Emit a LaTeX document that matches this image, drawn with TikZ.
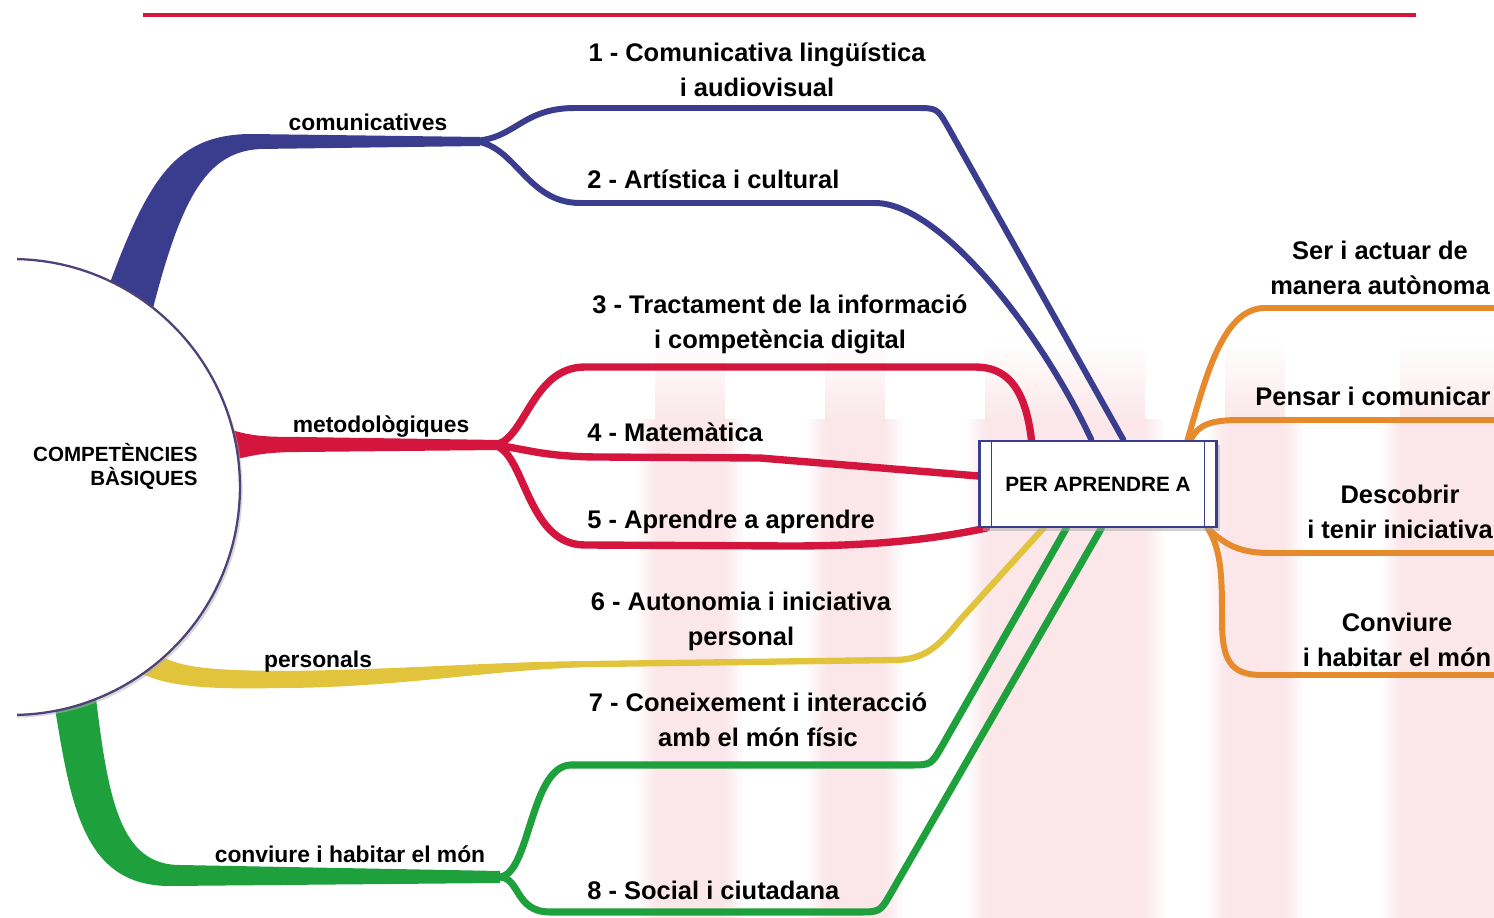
\documentclass[tikz,border=0pt]{standalone}
\usepackage{fontspec}
\setmainfont{Liberation Sans}
\usetikzlibrary{calc,shadows}
\pgfdeclarelayer{marca}
\pgfdeclarelayer{fons}
\pgfsetlayers{marca,fons,main}

\definecolor{blau}{RGB}{58,60,142}
\definecolor{vermell}{RGB}{212,22,62}
\definecolor{groc}{RGB}{226,195,60}
\definecolor{verd}{RGB}{30,160,60}
\definecolor{taronja}{RGB}{230,138,44}
\definecolor{vora}{RGB}{80,66,120}
\definecolor{rosa}{RGB}{251,231,234}

\tikzset{
	comp/.style={font=\fontsize{14.5}{20}\selectfont\bfseries, align=center, inner sep=0pt},
	grup/.style={font=\fontsize{13}{15}\selectfont\bfseries, inner sep=0pt, anchor=base},
	branca/.style={line width=#1, line cap=round, line join=round},
	branca/.default=3.4pt,
	caixa/.style={draw=blau, line width=1.2pt, fill=white, minimum width=4.74cm, minimum height=1.72cm, inner sep=0pt, font=\fontsize{11.8}{14}\selectfont\bfseries, drop shadow={shadow xshift=2pt, shadow yshift=-2pt, fill=black!35}}
}

\begin{document}
\begin{tikzpicture}[x=0.02cm, y=-0.02cm]
		\useasboundingbox (0,0) rectangle (1494,918);
		%Fons (marca d'aigua)
		\begin{pgfonlayer}{marca}
		\foreach \xa/\xb in {655/725, 825/885, 985/1145, 1225/1285, 1400/1500}{
			\fill [rosa] (\xa,420) rectangle (\xb,918);
			\shade [top color=white, bottom color=rosa] (\xa,340) rectangle (\xb,420.5);
			\shade [left color=white, right color=rosa] (\xa-20,420) rectangle (\xa+0.5,918);
			\shade [left color=rosa, right color=white] (\xb-0.5,420) rectangle (\xb+20,918);
		}
		\end{pgfonlayer}
		%Linia superior
		\draw [vermell, line width=2.8pt] (143,15)--(1416,15);
		
		%Cercle i caixa
		\begin{scope}
			\clip (17,0) rectangle (1494,918);
			\node [circle, draw=vora, line width=1.3pt, fill=white, minimum size=9.12cm, inner sep=0pt, drop shadow={shadow xshift=1.5pt, shadow yshift=-1.5pt, fill=black!30}] (cb) at (12,487) {};
		\end{scope}
		\node [font=\fontsize{11.7}{13.6}\selectfont\bfseries, align=right, anchor=east, inner sep=0pt] (tcb) at (198,466) {COMPETÈNCIES\\BÀSIQUES};
		\node [caixa] (per) at (1098,484) {PER APRENDRE A};
		\draw [blau, line width=1pt] ($(per.north west)+(13,0)$)--($(per.south west)+(13,0)$);
		\draw [blau, line width=1pt] ($(per.north east)+(-13,0)$)--($(per.south east)+(-13,0)$);
		
		%Bifurcacions
		\coordinate (scom) at (470,141);
		\coordinate (smet) at (492,445);
		\coordinate (spers) at (595,664);
		\coordinate (sconv) at (500,877);
		
		\begin{pgfonlayer}{fons}
		%Comunicatives
		\fill [blau] (100,310) .. controls (145,185) and (170,135) .. (250,134)--(480,137)--(480,146)--(260,149) .. controls (205,152) and (180,200) .. (150,320)--cycle;
		\draw [blau, branca] (scom) .. controls (515,141) and (520,108) .. (575,108)--(915,108) .. controls (937,108) .. (948,127)--($(per.north west)+(145,0)$);
		\draw [blau, branca] (scom) .. controls (515,141) and (525,203) .. (580,203)--(875,203) .. controls (940,203) and (1040,330) .. ($(per.north west)+(113,0)$);
		%Metodologiques
		\fill [vermell] (225,428) .. controls (250,436) and (262,437) .. (300,437)--(500,440)--(500,450)--(300,452) .. controls (262,452) and (250,456) .. (225,462)--cycle;
		\draw [vermell, branca=4.2pt] (smet) .. controls (525,445) and (530,367) .. (585,367)--(975,367) .. controls (1005,367) and (1025,385) .. ($(per.north west)+(53,0)$);
		\draw [vermell, branca=4.2pt] (smet) .. controls (520,447) and (540,457) .. (600,457)--(760,458)--($(per.west)+(0,-8)$);
		\draw [vermell, branca=4.2pt] (smet) .. controls (525,447) and (525,545) .. (585,545)--(790,546) .. controls (870,546) and (930,540) .. ($(per.south west)+(8,0)$);
		%Personals
		\fill [groc] (140,640) .. controls (165,668) and (200,670) .. (280,671) .. controls (400,670) and (500,661) .. (600,661)--(600,667) .. controls (500,668) and (400,688) .. (280,688) .. controls (190,690) and (150,685) .. (120,660)--cycle;
		\draw [groc, branca=3.6pt] (spers)--(895,660) .. controls (925,660) and (940,645) .. (960,620)--($(per.south west)+(65,0)$);
		%Conviure
		\fill [verd] (52,690) .. controls (70,800) and (80,886) .. (170,886)--(500,883)--(500,871)--(180,865) .. controls (120,865) and (108,800) .. (95,690)--cycle;
		\draw [verd, branca=4pt] (sconv) .. controls (530,874) and (530,768) .. (570,765)--(909,765) .. controls (931,765) .. (942,746)--($(per.south west)+(88,0)$);
		\draw [verd, branca=4pt] (sconv) .. controls (520,878) and (515,912) .. (550,912)--(858,912) .. controls (880,912) .. (891,893)--($(per.south west)+(123,0)$);
		%Per aprendre a
		\draw [taronja, branca] ($(per.north east)+(-30,0)$) .. controls (1205,380) and (1222,308) .. (1265,308)--(1500,308);
		\draw [taronja, branca] ($(per.north east)+(-27,0)$) .. controls (1198,425) and (1210,420) .. (1240,420)--(1500,420);
		\draw [taronja, branca] ($(per.south east)+(-10,0)$) .. controls (1225,545) and (1240,553) .. (1270,553)--(1500,553);
		\draw [taronja, branca] ($(per.south east)+(-10,0)$) .. controls (1222,550) and (1222,580) .. (1222,620) .. controls (1222,660) and (1230,675) .. (1262,675)--(1500,675);
		\end{pgfonlayer}
		
		%Grups
		\node [grup] (gcom) at (368,131) {comunicatives};
		\node [grup] (gmet) at (381,433) {metodològiques};
		\node [grup] (gpers) at (318,667) {personals};
		\node [grup] (gconv) at (350,862) {conviure i habitar el món};
		
		%Competencies
		\node [comp] (c1) at (757,70) {1 - Comunicativa lingüística\\i audiovisual};
		\node [comp, anchor=west] (c2) at (587,179) {2 - Artística i cultural};
		\node [comp] (c3) at (780,324) {3 - Tractament de la informació\\i competència digital};
		\node [comp, anchor=west] (c4) at (587,432) {4 - Matemàtica};
		\node [comp, anchor=west] (c5) at (587,522) {5 - Aprendre a aprendre};
		\node [comp] (c6) at (741,621) {6 - Autonomia i iniciativa\\personal};
		\node [comp] (c7) at (758,720) {7 - Coneixement i interacció\\amb el món físic};
		\node [comp, anchor=west] (c8) at (587,890) {8 - Social i ciutadana};
		
		%Per aprendre a
		\node [comp] (r1) at (1380,268) {Ser i actuar de\\manera autònoma};
		\node [comp] (r2) at (1373,396) {Pensar i comunicar};
		\node [comp] (r3) at (1400,512) {Descobrir\\i tenir iniciativa};
		\node [comp] (r4) at (1397,640) {Conviure\\i habitar el món};
	\end{tikzpicture}
\end{document}
